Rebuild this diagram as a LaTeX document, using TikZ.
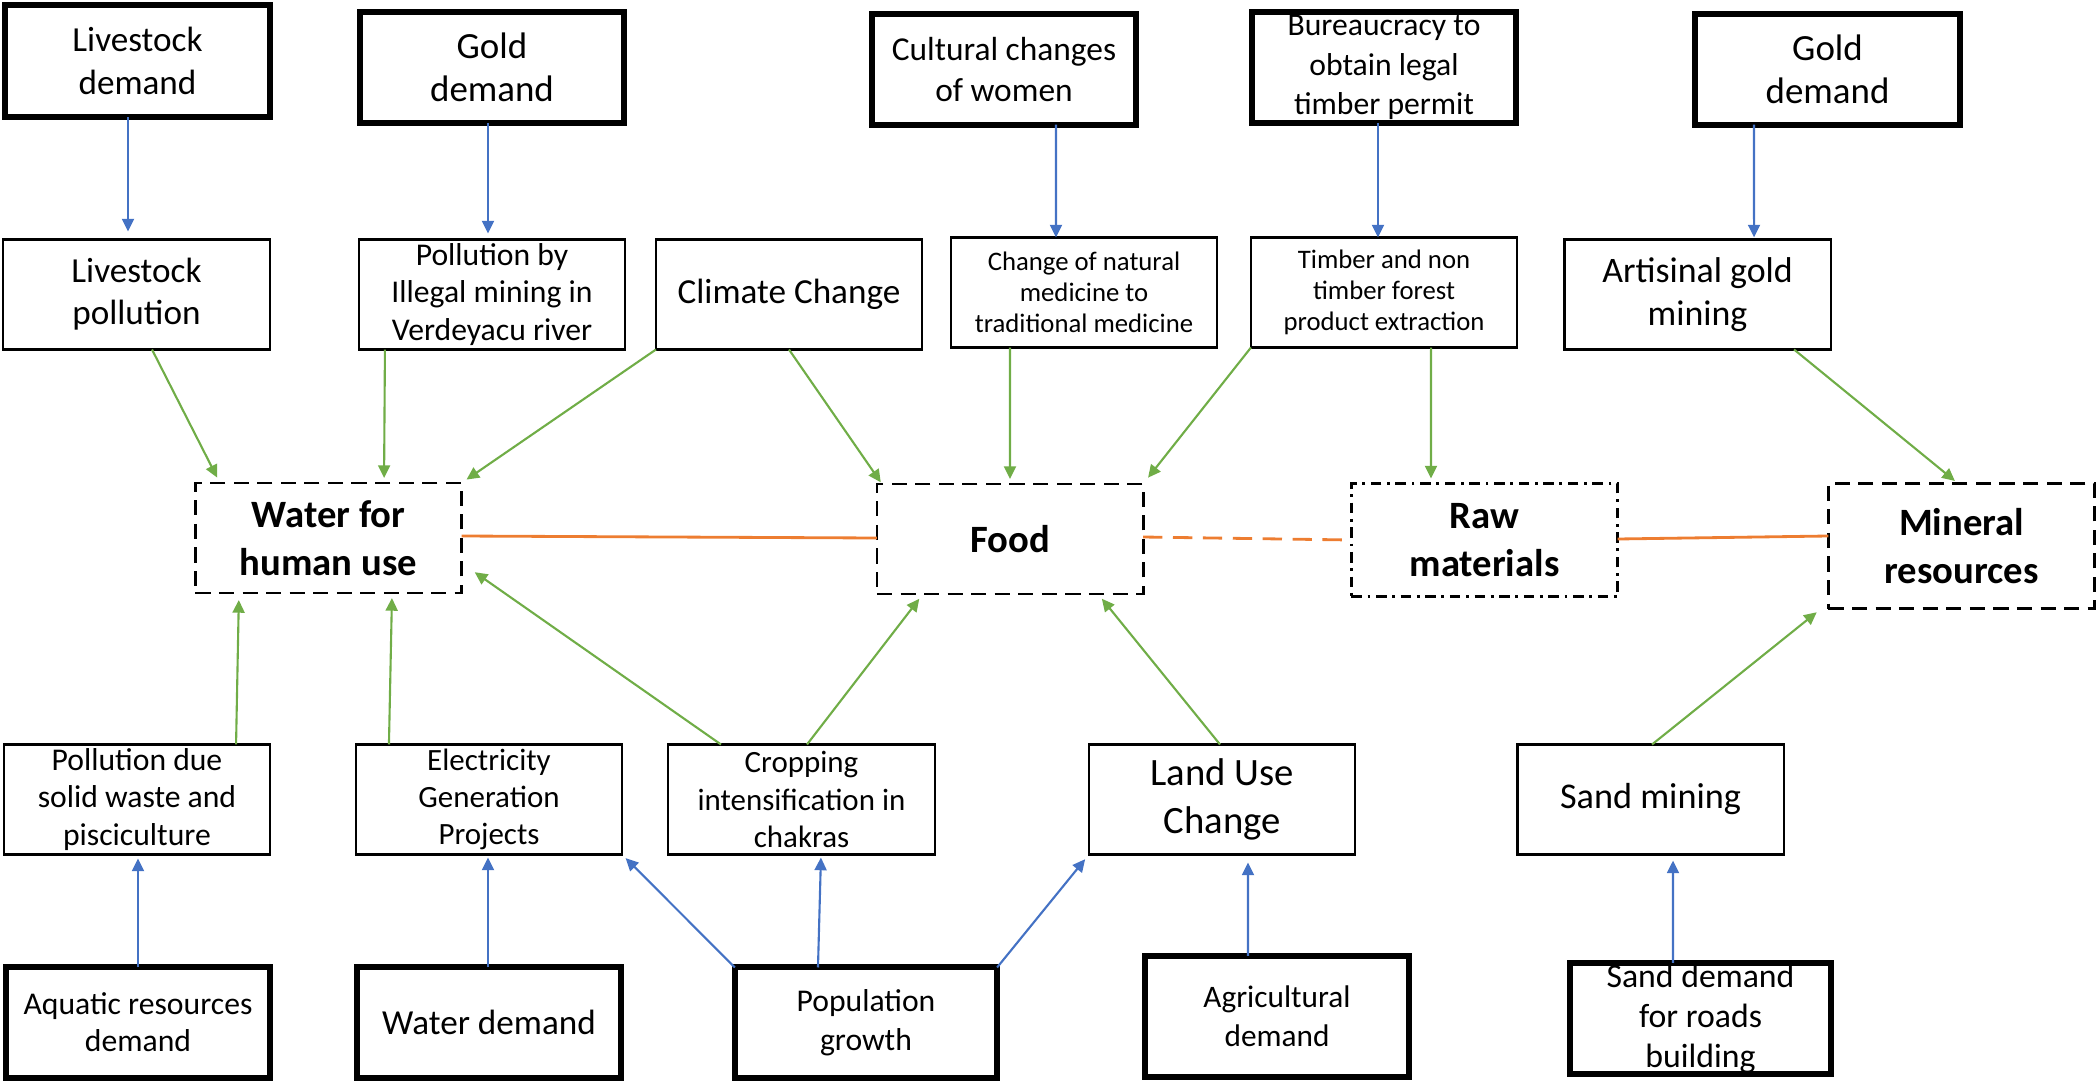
\documentclass[tikz,border=0pt]{standalone}
\usepackage{fontspec}
\setmainfont{Carlito}
\usetikzlibrary{arrows.meta}
\definecolor{blu}{HTML}{4472C4}
\definecolor{grn}{HTML}{70AD47}
\definecolor{org}{HTML}{ED7D31}
\newcommand{\fsz}[2]{\fontsize{#1}{#2}\selectfont}
\tikzset{
  box/.style={rectangle, draw, inner sep=0pt, outer sep=0pt, align=center, minimum width=2.66cm, minimum height=1.1cm},
  demand/.style={box, line width=1.7pt, minimum width=2.64cm},
  driver/.style={box, line width=0.6pt},
  service/.style={box, line width=0.8pt, dash pattern=on 4.3pt off 2.4pt, font=\bfseries\fsz{11}{13.6}},
  rawbox/.style={service, dash pattern=on 3pt off 1.6pt on 0.8pt off 1.6pt},
  push/.style={draw=blu, line width=0.6pt, -{Triangle[length=3.6pt,width=3.4pt]}},
  pull/.style={draw=grn, line width=0.6pt, -{Triangle[length=3.6pt,width=3.4pt]}},
  link/.style={draw=org, line width=0.8pt}
}
\begin{document}
\begin{tikzpicture}[x=0.01cm, y=-0.01cm]
      \useasboundingbox (0,0) rectangle (2098,1082);

      \node[demand, font=\fsz{10}{12}, minimum height=1.12cm] (livdem) at (137.5,61) {Livestock\\demand};
      \node[demand, font=\fsz{10.5}{12.3}] (goldA) at (492,67.5) {Gold\\demand};
      \node[demand, font=\fsz{9.5}{11.4}] (women) at (1004,69.5) {Cultural changes\\of women};
      \node[demand, font=\fsz{9}{11.2}] (permit) at (1384,67.5) {Bureaucracy to\\obtain legal\\timber permit};
      \node[demand, font=\fsz{10.5}{12.3}] (goldB) at (1827.5,69.5) {Gold\\demand};

      \node[driver, font=\fsz{10}{12}] (livpol) at (136.5,294.5) {Livestock\\pollution};
      \node[driver, font=\fsz{9}{10.6}] (illegal) at (492,294.5) {Pollution by\\Illegal mining in\\Verdeyacu river};
      \node[driver, font=\fsz{10}{12}] (climate) at (789,294.5) {Climate Change};
      \node[driver, font=\fsz{7.6}{8.9}] (medicine) at (1084,292.5) {Change of natural\\medicine to\\traditional medicine};
      \node[driver, font=\fsz{7.6}{8.9}] (timber) at (1384,292.5) {Timber and non\\timber forest\\product extraction};
      \node[driver, font=\fsz{10.2}{12.3}] (artisan) at (1697.5,294.5) {Artisinal gold\\mining};

      \node[service] (water) at (328.5,538) {Water for\\human use};
      \node[service] (food) at (1010,539) {Food};
      \node[rawbox, minimum height=1.13cm] (raw) at (1484.5,540) {Raw\\materials};
      \node[service, minimum height=1.25cm] (mineral) at (1961.5,546) {Mineral\\resources};

      \node[driver, font=\fsz{9}{10.6}] (waste) at (137,799.5) {Pollution due\\solid waste and\\pisciculture};
      \node[driver, font=\fsz{8.8}{10.6}] (power) at (489,799.5) {Electricity\\Generation\\Projects};
      \node[driver, font=\fsz{8.8}{10.6}] (crop) at (801.5,799.5) {Cropping\\intensification in\\chakras};
      \node[driver, font=\fsz{11}{13.7}] (landuse) at (1222,799.5) {Land Use\\Change};
      \node[driver, font=\fsz{10.3}{12.3}] (sand) at (1650.5,799.5) {Sand mining};

      \node[demand, font=\fsz{9}{10.6}] (aquatic) at (138,1022.5) {Aquatic resources\\demand};
      \node[demand, font=\fsz{10}{12}] (waterdem) at (489,1022.5) {Water demand};
      \node[demand, font=\fsz{9}{11}, minimum width=2.62cm] (popul) at (866,1022.5) {Population\\growth};
      \node[demand, font=\fsz{8.9}{11}, minimum height=1.21cm] (agri) at (1277,1016.5) {Agricultural\\demand};
      \node[demand, font=\fsz{9.6}{11.3}, minimum width=2.61cm, minimum height=1.11cm] (sanddem) at (1700.5,1018.5) {Sand demand\\for roads\\building};

      \draw[push, shorten >=0.08cm] ([xshift=-0.095cm]livdem.south) -- ([xshift=-0.085cm]livpol.north);
      \draw[push, shorten >=0.06cm] ([xshift=-0.04cm]goldA.south) -- ([xshift=-0.04cm]illegal.north);
      \draw[push] ([xshift=0.52cm]women.south) -- ([xshift=-0.28cm]medicine.north);
      \draw[push] ([xshift=-0.06cm]permit.south) -- ([xshift=-0.06cm]timber.north);
      \draw[push, shorten >=0.02cm] ([xshift=-0.735cm]goldB.south) -- ([xshift=0.565cm]artisan.north);
      \draw[push, shorten >=0.04cm] (aquatic.north) -- ([xshift=0.01cm]waste.south);
      \draw[push, shorten >=0.03cm] ([xshift=-0.01cm]waterdem.north) -- ([xshift=-0.01cm]power.south);
      \draw[push, shorten >=0.05cm] (popul.north west) -- (power.south east);
      \draw[push, shorten >=0.03cm] ([xshift=-0.48cm]popul.north) -- ([xshift=0.195cm]crop.south);
      \draw[push, shorten >=0.06cm] (popul.north east) -- (landuse.south west);
      \draw[push, shorten >=0.08cm] ([xshift=-0.29cm]agri.north) -- ([xshift=0.26cm]landuse.south);
      \draw[push, shorten >=0.06cm] ([xshift=-0.275cm]sanddem.north) -- ([xshift=0.225cm]sand.south);

      \draw[pull, shorten >=0.06cm] ([xshift=0.155cm]livpol.south) -- ([xshift=-1.085cm]water.north);
      \draw[pull, shorten >=0.05cm] ([xshift=-1.07cm]illegal.south) -- ([xshift=0.555cm]water.north);
      \draw[pull, shorten >=0.06cm] (climate.south west) -- (water.north east);
      \draw[pull, shorten >=0.02cm] (climate.south) -- ([xshift=-1.28cm]food.north);
      \draw[pull, shorten >=0.05cm] ([xshift=-0.74cm]medicine.south) -- (food.north);
      \draw[pull, shorten >=0.08cm] (timber.south west) -- (food.north east);
      \draw[pull, shorten >=0.05cm] ([xshift=0.47cm]timber.south) -- ([xshift=-0.535cm]raw.north);
      \draw[pull, shorten >=0.04cm] ([xshift=0.965cm]artisan.south) -- ([xshift=-0.035cm]mineral.north);
      \draw[pull, shorten >=0.07cm] ([xshift=0.99cm]waste.north) -- ([xshift=-0.895cm]water.south);
      \draw[pull, shorten >=0.05cm] ([xshift=-1.0cm]power.north) -- ([xshift=0.635cm]water.south);
      \draw[pull, shorten >=0.16cm] ([xshift=-0.805cm]crop.north) -- ([yshift=-0.25cm]water.east);
      \draw[pull, shorten >=0.06cm] ([xshift=0.055cm]crop.north) -- ([xshift=-0.87cm]food.south);
      \draw[pull, shorten >=0.06cm] ([xshift=-0.02cm]landuse.north) -- ([xshift=0.88cm]food.south);
      \draw[pull, shorten >=0.15cm] ([xshift=0.015cm]sand.north) -- ([yshift=0.057cm]mineral.south west);

      \draw[link] ([yshift=0.02cm]water.east) -- ([yshift=0.01cm]food.west);
      \draw[link, dash pattern=on 5.5pt off 3pt] ([yshift=0.02cm]food.east) -- (raw.west);
      \draw[link] ([yshift=0.01cm]raw.east) -- ([yshift=0.1cm]mineral.west);
\end{tikzpicture}
\end{document}
